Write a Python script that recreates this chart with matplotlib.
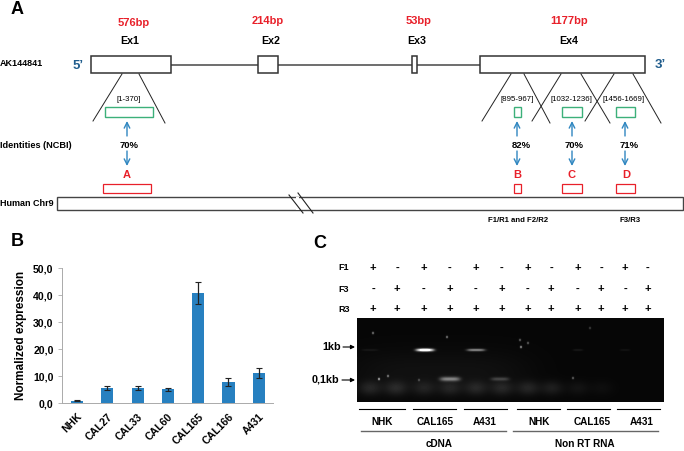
import numpy as np
import matplotlib
matplotlib.use("Agg")
import matplotlib.pyplot as plt
from matplotlib.patches import Rectangle

plt.rcParams['font.family'] = ['Liberation Sans', 'DejaVu Sans']
plt.rcParams['font.weight'] = 'bold'

W, H = 684, 451

# panel B
cell_lines = ["NHK", "CAL27", "CAL33", "CAL60", "CAL165", "CAL166", "A431"]
expression = [1.0, 5.6, 5.7, 5.2, 40.7, 7.9, 11.1]
expression_err = [0.2, 0.7, 0.8, 0.5, 4.1, 1.4, 1.9]
y_ticks = [0, 10, 20, 30, 40, 50]
y_labels = ["0,0", "10,0", "20,0", "30,0", "40,0", "50,0"]

# panel A
exon_names = ["Ex1", "Ex2", "Ex3", "Ex4"]
exon_sizes = ["576bp", "214bp", "53bp", "1177bp"]
exon_left = [91, 258, 412, 480]
exon_right = [171, 278, 417, 645]
size_label_x = [134, 268, 419, 569]
size_label_y = [23, 21, 21, 21]
name_label_x = [130, 271, 417, 569]
region_labels = ["[1-370]", "[895-967]", "[1032-1236]", "[1456-1669]"]
region_label_x = [129, 517, 571, 624]
identities = ["70%", "82%", "70%", "71%"]
identity_x = [129, 521, 574, 629]
match_names = ["A", "B", "C", "D"]
match_name_x = [127, 517, 572, 626]
green_left = [105, 514, 562, 616]
green_right = [153, 521, 582, 635]
red_left = [103, 514, 562, 616]
red_right = [151, 521, 582, 635]
arrow_x = [127, 517, 572, 625]
zoom_top_x = [(122, 139), (511, 524), (561, 581), (614, 633)]
zoom_bottom_x = [(93, 165), (482, 550), (532, 610), (585, 661)]

# panel C
primer_rows = {
    "F1": ["+", "-", "+", "-", "+", "-", "+", "-", "+", "-", "+", "-"],
    "F3": ["-", "+", "-", "+", "-", "+", "-", "+", "-", "+", "-", "+"],
    "R3": ["+"] * 12,
}
primer_row_y = [268, 289, 309]
lane_x = [373, 397, 424, 450, 476, 502, 528, 551, 578, 601, 625, 648]
group_names = ["NHK", "CAL165", "A431", "NHK", "CAL165", "A431"]
group_label_x = [382, 435, 485, 539, 592, 642]
group_left = [359, 413, 464, 517, 567, 617]
group_right = [405, 456, 507, 560, 610, 660]
# gel bands: x centre, y centre, half width, half height, brightness (pixels)
band_x = [425, 476, 450, 500, 425, 578, 625, 370]
band_y = [350, 350, 379, 379, 350, 350, 350, 350]
band_w = [9, 9, 10, 9, 4, 5, 5, 8]
band_h = [1.5, 1.3, 2.2, 1.8, 1, 1, 1, 1]
band_v = [1.0, 0.5, 0.45, 0.2, 1.0, 0.07, 0.05, 0.06]
smear_x = [370, 396, 424, 450, 476, 502, 528, 552, 578, 602]
smear_v = [0.11, 0.12, 0.09, 0.10, 0.11, 0.11, 0.11, 0.09, 0.05, 0.03]
spot_x = [373, 379, 388, 447, 520, 521, 528, 573, 590, 356, 419]
spot_y = [333, 379, 376, 337, 340, 347, 343, 378, 328, 358, 380]
spot_v = [0.5, 0.7, 0.5, 0.5, 0.4, 0.6, 0.4, 0.4, 0.25, 0.15, 0.3]

fig = plt.figure(figsize=(W / 100, H / 100), dpi=100)
ax = fig.add_axes([0, 0, 1, 1])
ax.set_xlim(0, W)
ax.set_ylim(H, 0)
ax.axis("off")

RED = "#e8202a"
GREEN = "#3cb07a"
BLUE = "#2f86c0"
DARK = "#222222"

# panel letters
ax.text(11, 9, "A", fontsize=13, ha="left", va="center")
ax.text(11, 242, "B", fontsize=13, ha="left", va="center")
ax.text(313, 243, "C", fontsize=13, ha="left", va="center")

# gene model
ax.text(0, 63, "AK144841", fontsize=6.5, va="center")
ax.text(78, 66, "5’", fontsize=9.5, color="#1f5c8c", ha="center", va="center")
ax.text(660, 65, "3’", fontsize=9.5, color="#1f5c8c", ha="center", va="center")
ax.plot([171, 480], [65, 65], color="#555555", lw=1.2, zorder=1)
for i in range(4):
    l, r = exon_left[i], exon_right[i]
    ax.add_patch(Rectangle((l, 56), r - l, 17, fc="white", ec="#333333", lw=1.1, zorder=2))
    ax.text(size_label_x[i], size_label_y[i], exon_sizes[i], color=RED, fontsize=8, ha="center", va="center")
    ax.text(name_label_x[i], 41, exon_names[i], fontsize=7.7, ha="center", va="center")

ax.text(0, 145, "Identities (NCBI)", fontsize=6.6, va="center")
ax.text(0, 204, "Human Chr9", fontsize=6.5, va="center")

for i in range(4):
    ax.plot([zoom_top_x[i][0], zoom_bottom_x[i][0]], [74, 121], color=DARK, lw=0.7)
    ax.plot([zoom_top_x[i][1], zoom_bottom_x[i][1]], [74, 123], color=DARK, lw=0.7)
    ax.text(region_label_x[i], 99.5, region_labels[i], fontsize=5.7, weight="normal", ha="center", va="center", color="black", zorder=4)
    ax.add_patch(Rectangle((green_left[i], 107), green_right[i] - green_left[i], 9.5, fc="white", ec=GREEN, lw=1.0, zorder=3))
    ax.add_patch(Rectangle((red_left[i], 183.5), red_right[i] - red_left[i], 9.5, fc="white", ec=RED, lw=0.9, zorder=3))
    ax.annotate("", xy=(arrow_x[i], 121), xytext=(arrow_x[i], 136),
                arrowprops=dict(arrowstyle="->", color=BLUE, lw=1.0, shrinkA=0, shrinkB=0, mutation_scale=10))
    ax.annotate("", xy=(arrow_x[i], 166), xytext=(arrow_x[i], 151),
                arrowprops=dict(arrowstyle="->", color=BLUE, lw=1.0, shrinkA=0, shrinkB=0, mutation_scale=10))
    ax.text(identity_x[i], 145, identities[i], fontsize=6.8, ha="center", va="center")
    ax.text(match_name_x[i], 174.5, match_names[i], color=RED, fontsize=8, ha="center", va="center")

# chromosome bar
ax.add_patch(Rectangle((57, 196.5), 626, 13.5, fc="white", ec="#444444", lw=1.0))
ax.plot([289, 303], [195, 213], color=DARK, lw=0.8, zorder=4)
ax.plot([298, 313], [193, 213], color=DARK, lw=0.8, zorder=4)
ax.add_patch(Rectangle((296, 197), 3, 13, fc="white", ec="none", zorder=3))
ax.text(518, 220, "F1/R1 and F2/R2", fontsize=5.6, ha="center", va="center")
ax.text(630, 220, "F3/R3", fontsize=5.6, ha="center", va="center")

# panel B bars
bx = fig.add_axes([62 / W, 1 - 403.3 / H, 211 / W, 135 / H])
xpos = np.arange(len(cell_lines))
bx.bar(xpos, expression, width=0.4, color="#2780c0", yerr=expression_err,
       error_kw=dict(ecolor="#222222", elinewidth=0.9, capsize=2, capthick=0.8))
bx.set_xlim(-0.5, 6.47)
bx.set_ylim(0, 50)
bx.set_yticks(y_ticks)
bx.set_yticklabels(y_labels, fontsize=7.6)
bx.set_xticks(xpos)
bx.set_xticklabels(cell_lines, fontsize=7.6, rotation=45, ha="right", rotation_mode="anchor")
bx.tick_params(axis="x", length=0, pad=6)
bx.tick_params(axis="y", length=3, width=0.6, color="#aaaaaa", pad=3)
for s in ["top", "right"]:
    bx.spines[s].set_visible(False)
for s in ["left", "bottom"]:
    bx.spines[s].set_color("#aaaaaa")
    bx.spines[s].set_linewidth(0.7)
bx.set_ylabel("Normalized expression", fontsize=8.5, fontweight="bold", labelpad=4)

# panel C primers
for (name, vals), y in zip(primer_rows.items(), primer_row_y):
    ax.text(344, y, name, fontsize=6.5, ha="center", va="center")
    for x, v in zip(lane_x, vals):
        ax.text(x, y, v, fontsize=8, ha="center", va="center")

# gel
gl, gr, gt, gb = 357, 664, 318, 402
xx, yy = np.meshgrid(np.arange(gl, gr) + 0.5, np.arange(gt, gb) + 0.5)
gel = np.full(xx.shape, 0.025)
gel += 0.04 * np.exp(-((xx - 440) / 90) ** 4 - ((yy - 372) / 22) ** 2)
for x, v in zip(smear_x, smear_v):
    gel += v * np.exp(-((xx - x) / 11) ** 2 - ((yy - 388) / 7) ** 2)
for x, y, w, h, v in zip(band_x, band_y, band_w, band_h, band_v):
    gel += v * np.exp(-((xx - x) / w) ** 4 - ((yy - y) / h) ** 2)
for x, y, v in zip(spot_x, spot_y, spot_v):
    gel += v * np.exp(-((xx - x) / 1.0) ** 2 - ((yy - y) / 1.2) ** 2)
ax.imshow(gel, extent=(gl, gr, gb, gt), cmap="gray", vmin=0, vmax=1, aspect="auto", zorder=2)
ax.set_xlim(0, W)
ax.set_ylim(H, 0)

ax.text(332, 347, "1kb", fontsize=7.8, ha="center", va="center")
ax.text(325, 380, "0,1kb", fontsize=7.8, ha="center", va="center")
ax.annotate("", xy=(355, 347), xytext=(343, 347), arrowprops=dict(arrowstyle="-|>", color="black", lw=0.8, shrinkA=0, shrinkB=0, mutation_scale=6))
ax.annotate("", xy=(355, 380), xytext=(342, 380), arrowprops=dict(arrowstyle="-|>", color="black", lw=0.8, shrinkA=0, shrinkB=0, mutation_scale=6))

for i in range(6):
    ax.plot([group_left[i], group_right[i]], [409, 409], color="black", lw=0.8)
    ax.text(group_label_x[i], 422, group_names[i], fontsize=7.2, ha="center", va="center")
ax.plot([361, 506], [431, 431], color="#666666", lw=1.0)
ax.plot([513, 658], [431, 431], color="#666666", lw=1.0)
ax.text(439, 444, "cDNA", fontsize=7.2, ha="center", va="center")
ax.text(585, 444, "Non RT RNA", fontsize=7.2, ha="center", va="center")

fig.savefig("out.png", dpi=100)
